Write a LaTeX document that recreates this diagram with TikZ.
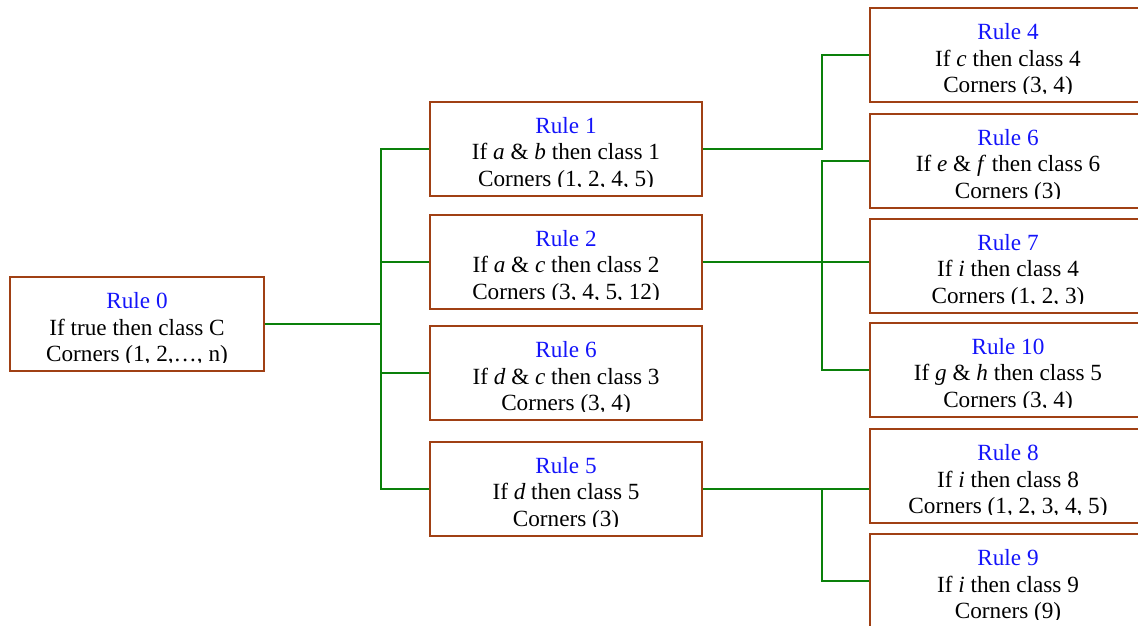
\documentclass[tikz,border=0pt]{standalone}
\usepackage{fontspec}
\setmainfont{Liberation Serif}
\usepackage{xcolor}
\definecolor{cardedge}{RGB}{160,64,20}
\definecolor{linkgreen}{RGB}{10,128,10}
\definecolor{ruleblue}{RGB}{20,20,250}
\tikzset{
    rulebox/.style={rectangle, draw=cardedge, line width=2pt, minimum width=272pt, minimum height=94pt, inner sep=0pt},
    ruletitle/.style={anchor=base, inner sep=0pt, text=ruleblue, font=\fontsize{23.2}{26}\selectfont},
    ruletext/.style={anchor=base, inner sep=0pt, text=black, font=\fontsize{23.2}{26}\selectfont},
    link/.style={draw=linkgreen, line width=2pt},
}
% one rule card: [options]{name}{centre}{number}{condition}{corners}
% the last line is cut just above its baseline, as in a fixed text box
\newcommand{\rulecard}[6][]{%
    \node[rulebox, #1] (#2) at (#3) {};
    \begin{scope}
        \clip (#2.north west) rectangle ([yshift=10pt]#2.south east);
        \node[ruletitle] at ([yshift=-32.5pt]#2.north) {Rule #4};
        \node[ruletext] at ([yshift=-59pt]#2.north) {#5};
        \node[ruletext] at ([yshift=-85.5pt]#2.north) {Corners (#6)};
    \end{scope}}

\begin{document}
\begin{tikzpicture}[x=1pt, y=-1pt]
    \useasboundingbox (0,0) rectangle (1138,625);
    \clip (0,0) rectangle (1138,625);

    % root
    \rulecard[minimum width=254pt]{r0}{137,324}{0}{If true then class C}{1, 2,…, n}

    % first level
    \rulecard{r1}{566,148.5}{1}{If \textit{a} \& \textit{b} then class 1}{1, 2, 4, 5}
    \rulecard{r2}{566,261.5}{2}{If \textit{a} \& \textit{c} then class 2}{3, 4, 5, 12}
    \rulecard{r6}{566,373}{6}{If \textit{d} \& \textit{c} then class 3}{3, 4}
    \rulecard{r5}{566,488.5}{5}{If \textit{d} then class 5}{3}

    % second level
    \rulecard[minimum width=276pt]{r4}{1008,55}{4}{If \textit{c} then class 4}{3, 4}
    \rulecard[minimum width=276pt]{r6b}{1008,160.5}{6}{If \textit{e} \& \textit{f} then class 6}{3}
    \rulecard[minimum width=276pt]{r7}{1008,265.5}{7}{If \textit{i} then class 4}{1, 2, 3}
    \rulecard[minimum width=276pt]{r10}{1008,369.5}{10}{If \textit{g} \& \textit{h} then class 5}{3, 4}
    \rulecard[minimum width=276pt]{r8}{1008,476}{8}{If \textit{i} then class 8}{1, 2, 3, 4, 5}
    \rulecard[minimum width=276pt]{r9}{1008,581}{9}{If \textit{i} then class 9}{9}

    % trunks
    \coordinate (t0) at (381,0);
    \coordinate (t1) at (822,0);

    \draw[link] (r0.east) -- (t0 |- r0.east);
    \draw[link] (r1.west) -| (t0 |- r5.west) -- (r5.west);
    \draw[link] (r2.west) -- (t0 |- r2.west);
    \draw[link] (r6.west) -- (t0 |- r6.west);

    \draw[link] (r1.east) -| (t1 |- r4.west) -- (r4.west);
    \draw[link] (r2.east) -- (r2.east -| r7.west);
    \draw[link] (r6b.west) -| (t1 |- r10.west) -- (r10.west);
    \draw[link] (r5.east) -- (r5.east -| r8.west);
    \draw[link] (t1 |- r5.east) |- (r9.west);
\end{tikzpicture}
\end{document}
